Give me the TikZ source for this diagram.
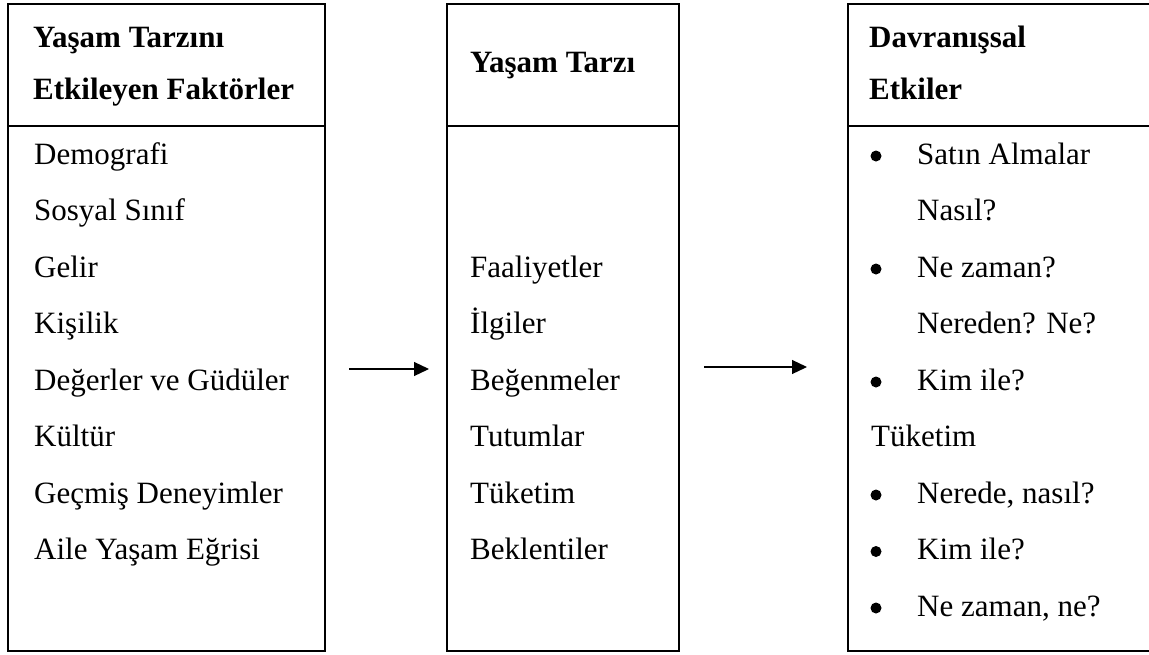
\documentclass[tikz,border=0pt]{standalone}
\usepackage{fontspec}
\setmainfont{Liberation Serif}
\usepackage{tikz,pgffor}
\usetikzlibrary{arrows.meta}
\usetikzlibrary{positioning}
\tikzstyle{tran}  = [
    draw,
    line width=1.2pt,
    -{Triangle[length=15pt,width=14pt]}
]
\tikzstyle{panel} = [
    shape=rectangle,
    draw,
    line width=1.8pt,
    minimum height=647pt,
    inner sep=0pt
]
\tikzstyle{txt}   = [
    anchor=base west,
    inner sep=0pt,
    font=\fontsize{31}{38}\selectfont
]
\tikzstyle{head}  = [
    txt,
    font=\fontsize{31}{38}\selectfont\bfseries
]
\tikzstyle{dotmark} = [
    shape=circle,
    fill,
    inner sep=0pt,
    minimum size=11pt
]
\newcommand{\rowy}[1]{164+56.5*(#1-1)}

\begin{document}
\begin{tikzpicture}[x = 1pt, y = -1pt]
\useasboundingbox (0,0) rectangle (1149,654);
\node[panel, minimum width=317pt] (factors)  at (166.5,327.5) {};
\node[panel, minimum width=232pt] (style)    at (563,327.5)   {};
\node[panel, minimum width=304pt] (effects)  at (1000,327.5)  {};

\draw[line width=1.8pt] (factors.west |- 0,126) -- (factors.east |- 0,126);
\draw[line width=1.8pt] (style.west |- 0,126)   -- (style.east |- 0,126);
\draw[line width=1.8pt] (effects.west |- 0,126) -- (effects.east |- 0,126);

% headings
\node[head] (h1) at (33,47)  {Yaşam Tarzını};
\node[head] (h2) at (33,99)  {Etkileyen Faktörler};
\node[head] (h3) at (470,72) {Yaşam Tarzı};
\node[head] (h4) at (869,47) {Davranışsal};
\node[head] (h5) at (869,99) {Etkiler};

% factors
\foreach \t [count=\i] in {Demografi, Sosyal Sınıf, Gelir, Kişilik,
    Değerler ve Güdüler, Kültür, Geçmiş Deneyimler, Aile Yaşam Eğrisi}
  \node[txt] (f\i) at (34,{\rowy{\i}}) {\t};

% lifestyle
\foreach \t [count=\i from 3] in {Faaliyetler, İlgiler, Beğenmeler, Tutumlar,
    Tüketim, Beklentiler}
  \node[txt] (s\i) at (470,{\rowy{\i}}) {\t};

% effects
\foreach \t/\k in {Satın Almalar/1, Ne zaman?/3, Kim ile?/5,
    Nerede{,} nasıl?/7, Kim ile?/8, Ne zaman{,} ne?/9} {
  \node[dotmark] (b\k) at (876,{\rowy{\k}-8}) {};
  \node[txt] (e\k) at (917,{\rowy{\k}}) {\t};
}
\node[txt] (e2) at (917,{\rowy{2}}) {Nasıl?};
\node[txt] (e4) at (917,{\rowy{4}}) {Nereden? Ne?};
\node[txt] (e6) at (871,{\rowy{6}}) {Tüketim};

\coordinate (a1s) at (349,369);
\coordinate (a1e) at (429,369);
\coordinate (a2s) at (704,367);
\coordinate (a2e) at (807,367);
\draw[tran] (a1s) -- (a1e);
\draw[tran] (a2s) -- (a2e);

\end{tikzpicture}
\end{document}
